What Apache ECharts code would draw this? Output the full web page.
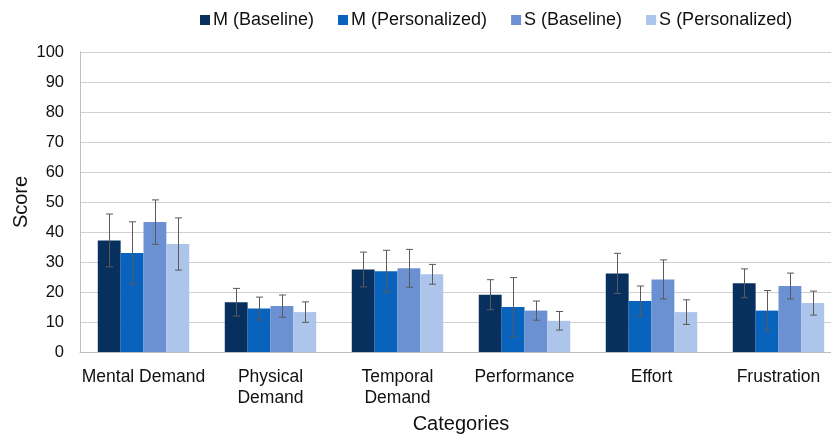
<!DOCTYPE html>
<html>
<head>
<meta charset="utf-8">
<script src="https://cdn.jsdelivr.net/npm/echarts@6/dist/echarts.min.js"></script>
<style>
  html, body { margin: 0; padding: 0; background: #fff; }
  #main { width: 831px; height: 434px; }
</style>
</head>
<body>
<div id="main"></div>
<script>
var categories = ['Mental Demand', 'Physical\nDemand', 'Temporal\nDemand', 'Performance', 'Effort', 'Frustration'];
var seriesNames = ['M (Baseline)', 'M (Personalized)', 'S (Baseline)', 'S (Personalized)'];
var colors = ['#07305f', '#0962bb', '#6b91d3', '#adc5ea'];

// means
var mBaseline = [37.2, 16.6, 27.5, 19.1, 26.2, 22.9];
var mPersonalized = [33.0, 14.5, 26.9, 15.0, 17.0, 13.8];
var sBaseline = [43.3, 15.3, 27.9, 13.8, 24.2, 22.0];
var sPersonalized = [36.0, 13.3, 25.9, 10.4, 13.3, 16.3];

// error (+/-)
var mBaselineErr = [8.8, 4.6, 5.8, 5.0, 6.7, 4.8];
var mPersonalizedErr = [10.4, 3.8, 7.0, 9.8, 5.0, 6.7];
var sBaselineErr = [7.4, 3.7, 6.3, 3.2, 6.5, 4.3];
var sPersonalizedErr = [8.7, 3.4, 3.3, 3.1, 4.1, 4.0];

var means = [mBaseline, mPersonalized, sBaseline, sPersonalized];
var errs = [mBaselineErr, mPersonalizedErr, sBaselineErr, sPersonalizedErr];

var barPct = 0.18;
var font = 'Liberation Sans, Arial, sans-serif';

var series = [];
for (var s = 0; s < 4; s++) {
    series.push({
        name: seriesNames[s],
        type: 'bar',
        barWidth: '18%',
        barGap: '0%',
        itemStyle: { color: colors[s] },
        data: means[s]
    });
}

// error bars drawn on top of the bars
for (var s = 0; s < 4; s++) {
    (function(idx) {
        var d = [];
        for (var i = 0; i < categories.length; i++) {
            d.push([i, means[idx][i] - errs[idx][i], means[idx][i] + errs[idx][i]]);
        }
        series.push({
            type: 'custom',
            z: 10,
            silent: true,
            renderItem: function(params, api) {
                var band = api.size([1, 0])[0];
                var bw = band * barPct;
                var offset = (idx - 1.5) * bw;
                var lo = api.coord([api.value(0), api.value(1)]);
                var hi = api.coord([api.value(0), api.value(2)]);
                var x = Math.round(lo[0] + offset) + 0.5;
                var cap = 3.5;
                var st = { stroke: '#5a5a5a', lineWidth: 1 };
                return {
                    type: 'group',
                    children: [
                        { type: 'line', shape: { x1: x, y1: lo[1], x2: x, y2: hi[1] }, style: st },
                        { type: 'line', shape: { x1: x - cap, y1: hi[1], x2: x + cap, y2: hi[1] }, style: st },
                        { type: 'line', shape: { x1: x - cap, y1: lo[1], x2: x + cap, y2: lo[1] }, style: st }
                    ]
                };
            },
            encode: { x: 0, y: [1, 2] },
            data: d
        });
    })(s);
}

var option = {
    animation: false,
    textStyle: { fontFamily: font },
    legend: {
        data: seriesNames,
        top: 6,
        left: 195,
        itemWidth: 10,
        itemHeight: 10,
        itemGap: 24,
        icon: 'rect',
        textStyle: { fontSize: 18, color: '#111', fontFamily: font, padding: [0, 0, 0, -2] }
    },
    grid: {
        left: 80,
        top: 52,
        width: 762,
        height: 300,
        outerBoundsMode: 'none'
    },
    xAxis: {
        type: 'category',
        data: categories,
        name: 'Categories',
        nameLocation: 'middle',
        nameGap: 62,
        nameTextStyle: { fontSize: 20, color: '#111', fontFamily: font },
        axisLine: { lineStyle: { color: '#bfbfbf', width: 1 } },
        axisTick: { show: false },
        axisLabel: { fontSize: 17.5, color: '#111', margin: 15, lineHeight: 21, interval: 0, fontFamily: font }
    },
    yAxis: {
        type: 'value',
        min: 0,
        max: 100,
        interval: 10,
        name: 'Score',
        nameLocation: 'middle',
        nameGap: 49,
        nameMoveOverlap: false,
        nameTextStyle: { fontSize: 20, color: '#111', fontFamily: font },
        axisLine: { show: true, lineStyle: { color: '#bfbfbf', width: 1 } },
        axisTick: { show: false },
        axisLabel: { fontSize: 16.5, color: '#111', margin: 16, fontFamily: font },
        splitLine: { lineStyle: { color: '#d0d0d0', width: 1 } }
    },
    series: series
};

var myChart = echarts.init(document.getElementById('main'));
myChart.setOption(option);
</script>
</body>
</html>
